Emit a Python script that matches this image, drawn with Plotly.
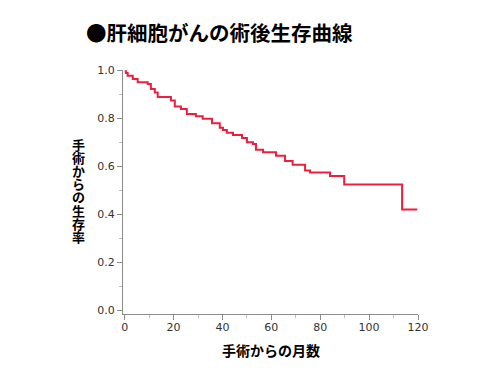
import plotly.graph_objects as go

# Kaplan-Meier step data (months after surgery, survival rate)
months = [0, 0.5, 1.2, 3.3, 5.3, 9.4, 10.7, 12.3, 13.5, 18.9, 20.5, 23.0, 25.4, 29.1,
          31.9, 35.7, 38.9, 40.2, 41.8, 44.3, 48.0, 50.0, 52.5, 53.7, 56.6, 61.9,
          65.6, 68.7, 73.8, 75.8, 84.0, 89.8, 113.5, 119.7]
survival = [0.995, 0.988, 0.976, 0.963, 0.949, 0.942, 0.921, 0.907, 0.888, 0.873, 0.848,
            0.838, 0.817, 0.808, 0.797, 0.779, 0.760, 0.751, 0.739, 0.730, 0.717, 0.700,
            0.692, 0.669, 0.658, 0.644, 0.622, 0.606, 0.582, 0.574, 0.559, 0.524, 0.420,
            0.420]

title_text = "●肝細胞がんの術後生存曲線"
y_title = "手術からの生存率"
x_title = "手術からの月数"
x_ticks = [0, 20, 40, 60, 80, 100, 120]
y_ticks = [0.0, 0.2, 0.4, 0.6, 0.8, 1.0]

JP = "Noto Sans CJK JP"
NUM = "DejaVu Sans"

W, H = 500, 375
ML, MR, MT, MB = 123, 82, 70, 61
PW, PH = W - ML - MR, H - MT - MB


def px(x):
    return (x - ML) / PW


def py(y):
    return (H - MB - y) / PH


fig = go.Figure()
fig.add_trace(go.Scatter(x=months, y=survival, mode="lines", line_shape="hv",
                         line=dict(color="#ec1f3f", width=2), showlegend=False,
                         hoverinfo="skip"))

axis_common = dict(showgrid=False, zeroline=False, showline=True, linecolor="#8c8c8c",
                   linewidth=1, ticks="outside", ticklen=5, tickcolor="#8c8c8c",
                   tickfont=dict(family=NUM, size=11, color="#333333"))

fig.update_xaxes(range=[-0.7, 120], tickvals=x_ticks, ticklabelstandoff=-2,
                 minor=dict(ticks="outside", ticklen=3, tickcolor="#bdbdbd", dtick=10, tick0=0),
                 **axis_common)
fig.update_yaxes(range=[-0.014, 1.0], tickvals=y_ticks, tickformat=".1f",
                 minor=dict(ticks="outside", ticklen=3, tickcolor="#bdbdbd", dtick=0.1, tick0=0),
                 **axis_common)

annotations = [
    dict(text="<b>" + title_text + "</b>", x=px(84), y=py(32), xref="paper", yref="paper",
         showarrow=False, font=dict(family=JP, size=20.5, color="black"),
         xanchor="left", yanchor="middle"),
    dict(text="<b>" + x_title + "</b>", x=px(271), y=py(350), xref="paper", yref="paper",
         showarrow=False, font=dict(family=JP, size=14, color="black"),
         xanchor="center", yanchor="middle"),
]
for i, ch in enumerate(y_title):
    annotations.append(dict(text="<b>" + ch + "</b>", x=px(78), y=py(144.5 + 13.1 * i),
                            xref="paper", yref="paper", showarrow=False,
                            font=dict(family=JP, size=13, color="black"),
                            xanchor="center", yanchor="middle"))

fig.update_layout(
    width=W, height=H,
    margin=dict(l=ML, r=MR, t=MT, b=MB),
    paper_bgcolor="white", plot_bgcolor="white",
    annotations=annotations,
)

fig.write_html("out.html")
